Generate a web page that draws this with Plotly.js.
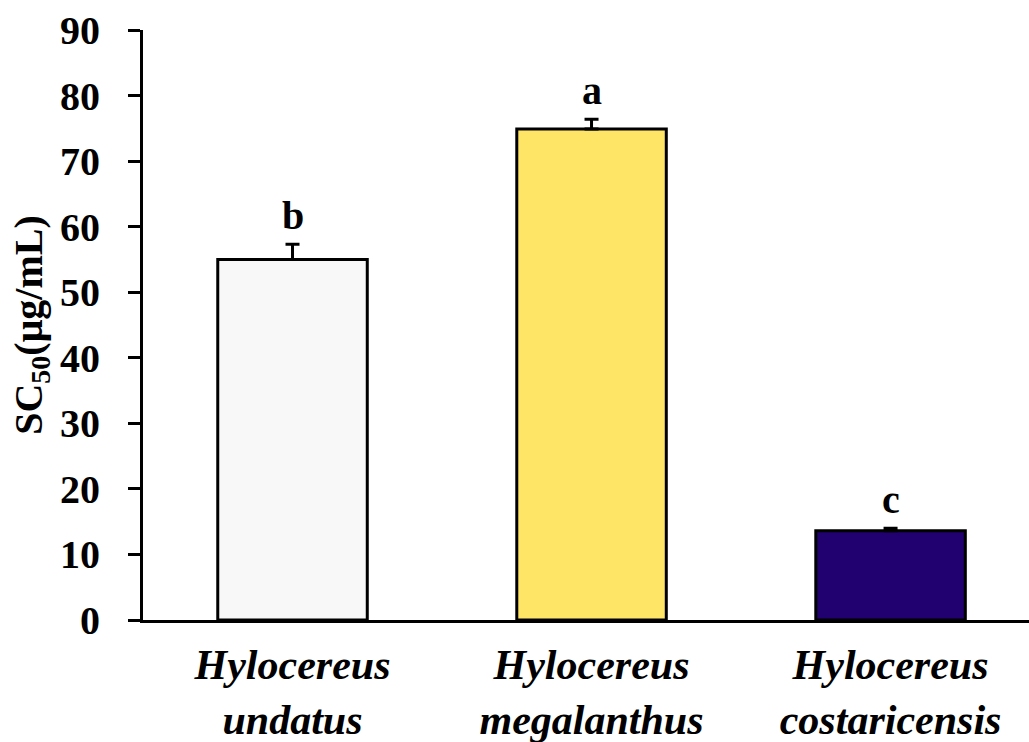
<!DOCTYPE html>
<html>
<head>
<meta charset="utf-8">
<script src="https://cdn.plot.ly/plotly-3.0.1.min.js"></script>
<style>html,body{margin:0;padding:0;background:#fff;}#chart{width:1029px;height:742px;}</style>
</head>
<body>
<div id="chart"></div>
<script>
const genus = ["Hylocereus", "Hylocereus", "Hylocereus"];
const species = ["undatus", "megalanthus", "costaricensis"];
const sc50 = [55.0, 74.9, 13.6];
const sdErr = [2.3, 1.5, 0.4];
const letters = ["b", "a", "c"];
const barColors = ["#f8f8f8", "#ffe566", "#21006f"];
const yTicks = [0, 10, 20, 30, 40, 50, 60, 70, 80, 90];

const cats = species.map((s, i) => i);
const tickText = species.map((s, i) => genus[i] + "<br>" + s);
const font = "Liberation Serif, Times New Roman, serif";

const trace = {
  type: "bar",
  x: cats,
  y: sc50,
  width: 0.5,
  marker: { color: barColors, line: { color: "#000", width: 3 } },
  error_y: { type: "data", symmetric: false, array: sdErr, arrayminus: sdErr.map(() => 0), color: "#000", thickness: 3, width: 7 },
  hoverinfo: "none"
};

const annotations = letters.map((t, i) => ({
  x: cats[i], y: sc50[i] + sdErr[i], xref: "x", yref: "y",
  text: t, showarrow: false, yanchor: "bottom", yshift: 4,
  font: { family: font, size: 40, color: "#000", weight: "bold" }
}));

const layout = {
  width: 1029, height: 742,
  margin: { l: 143, r: 0, t: 30, b: 122 },
  paper_bgcolor: "#fff", plot_bgcolor: "#fff",
  showlegend: false,
  bargap: 0.5,
  xaxis: {
    range: [-0.5, 2.463],
    tickvals: cats, ticktext: tickText,
    ticks: "", showgrid: false, zeroline: false,
    showline: true, linecolor: "#000", linewidth: 3,
    tickfont: { family: font, size: 42, color: "#000", weight: "bold", style: "italic" },
    ticklabelstandoff: 6
  },
  yaxis: {
    range: [0, 90],
    tickvals: yTicks, ticktext: yTicks.map(String),
    ticks: "outside", ticklen: 12, tickwidth: 3, tickcolor: "#000",
    showgrid: false, zeroline: false,
    showline: true, linecolor: "#000", linewidth: 3,
    tickfont: { family: font, size: 40, color: "#000", weight: "bold" },
    ticklabelstandoff: 20,
    title: { text: "SC<sub>50</sub>(μg/mL)", font: { family: font, size: 40, color: "#000", weight: "bold" }, standoff: 6 }
  },
  annotations: annotations
};

Plotly.newPlot("chart", [trace], layout, { displayModeBar: false, staticPlot: true });
</script>
</body>
</html>
